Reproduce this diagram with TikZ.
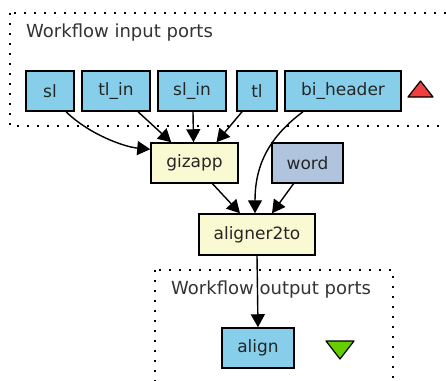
\documentclass[tikz,border=0pt]{standalone}
\usepackage{fontspec}
\setmainfont{DejaVu Sans}
\usetikzlibrary{arrows.meta,calc}
\definecolor{inblue}{HTML}{87CEEB}
\definecolor{procyellow}{HTML}{FAFAD2}
\definecolor{constblue}{HTML}{B0C4DE}
\definecolor{trired}{HTML}{F04040}
\definecolor{trigreen}{HTML}{66CD00}
\tikzset{
  box/.style={draw=black, line width=1.5pt, minimum height=40pt, inner sep=0pt,
    font=\fontsize{17}{19}\selectfont, text=black!85},
  inport/.style={box, fill=inblue},
  proc/.style={box, fill=procyellow},
  constbox/.style={box, fill=constblue},
  cluster/.style={line width=2pt, dash pattern=on 2pt off 8pt},
  clabel/.style={anchor=west, inner sep=0pt, font=\fontsize{18}{20}\selectfont, text=black!80},
  edge/.style={line width=1.4pt, -{Triangle[length=13pt,width=14pt]}},
}
\begin{document}
\begin{tikzpicture}[x=1pt,y=-1pt]
\clip (0,0) rectangle (446,380);
\fill[white] (0,0) rectangle (446,380);
% clusters
\draw[cluster] (10,13) rectangle (460,126);
\node[clabel] (inlabel) at (26,33) {Workflow input ports};
\draw[cluster] (155,270) rectangle (393,400);
\node[clabel] (outlabel) at (171,290) {Workflow output ports};
% input ports
\node[inport, minimum width=48pt] (sl) at (50,91) {sl};
\node[inport, minimum width=68pt] (tlin) at (116,91) {tl\_in};
\node[inport, minimum width=68pt] (slin) at (192,91) {sl\_in};
\node[inport, minimum width=40pt] (tl) at (257,91) {tl};
\node[inport, minimum width=116pt] (bih) at (343,91) {bi\_header};
\filldraw[fill=trired, draw=black, line width=1.2pt, line join=round] (408,97) -- (433,97) -- (420.5,81) -- cycle;
% processors
\node[proc, minimum width=87pt] (giz) at (194.5,163) {gizapp};
\node[constbox, minimum width=71pt] (word) at (307.5,163) {word};
\node[proc, minimum width=116pt, minimum height=41pt] (al) at (257,234.5) {aligner2to};
% output
\node[inport, minimum width=72pt] (align) at (258,348) {align};
\filldraw[fill=trigreen, draw=black, line width=1.2pt, line join=round] (326,341) -- (354,341) -- (340,359) -- cycle;
% edges
\draw[edge] ($(sl.south)+(16,0)$) .. controls (90,135) and (125,147) .. ($(giz.north west)+(0,7)$);
\draw[edge] ($(tlin.south)+(22,0)$) -- ($(giz.north west)+(21,0)$);
\draw[edge] ($(slin.south)+(1,0)$) -- ($(giz.north)+(-1,0)$);
\draw[edge] ($(tl.south)+(-15,0)$) -- ($(giz.north)+(22,0)$);
\draw[edge] ($(bih.south)+(-40,0)$) .. controls (265,140) and (255,170) .. ($(al.north)+(-2,0)$);
\draw[edge] ($(giz.south)+(18,0)$) -- ($(al.north)+(-17,0)$);
\draw[edge] ($(word.south)+(-14,0)$) -- ($(al.north)+(15,0)$);
\draw[edge] (al.south) -- (align.north);
\end{tikzpicture}
\end{document}
